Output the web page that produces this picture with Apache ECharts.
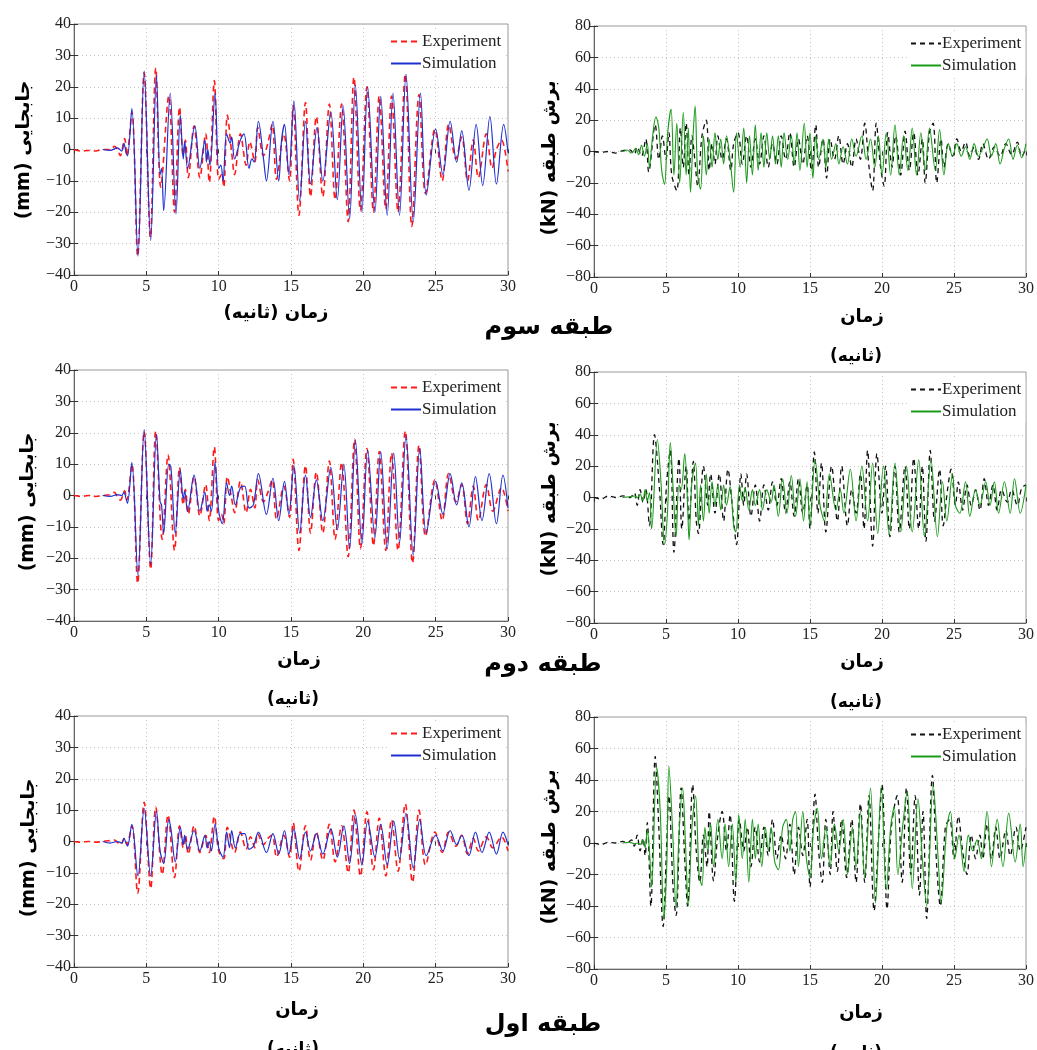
<!DOCTYPE html>
<html>
<head>
<meta charset="utf-8">
<script src="https://cdn.jsdelivr.net/npm/echarts@6/dist/echarts.min.js"></script>
<style>
html,body{margin:0;padding:0;background:#fff;}
#chart{width:1037px;height:1050px;}
</style>
</head>
<body>
<div id="chart"></div>
<script>
// ---------------- DATA (time [s], value) ----------------
const timeTicks = [0, 5, 10, 15, 20, 25, 30];
const dispTicks = [-40, -30, -20, -10, 0, 10, 20, 30, 40];
const shearTicks = [-80, -60, -40, -20, 0, 20, 40, 60, 80];

// Third storey displacement (mm)
const disp3_exp = [[0,0],[0.5,-0.5],[1,-0.3],[1.5,-0.5],[2,0],[2.5,0],[2.8,1],[3,0],[3.2,-2],[3.5,3.5],[3.65,-2],[4,12],[4.4,-34],[4.85,24.5],[5.28,-28],[5.65,26],[6,-12],[6.55,17],[6.95,-20],[7.3,13.5],[7.55,-2],[7.7,3],[7.9,-9],[8.3,7.5],[8.7,-9],[9.1,5],[9.35,-10.5],[9.7,22],[10,-9.5],[10.2,-8],[10.35,-12],[10.6,11],[10.9,-1],[11.1,-8],[11.5,5],[11.9,-5],[12.15,2.5],[12.5,-4],[12.7,7],[13.1,-2],[13.4,2],[13.7,8],[14,-9.5],[14.5,5],[14.9,-10],[15.15,14],[15.55,-21],[16,15],[16.35,-15],[16.75,10.5],[17.2,-15],[17.65,14.5],[18.05,-16],[18.5,14.5],[18.95,-23],[19.35,23],[19.8,-19.5],[20.25,20],[20.7,-20],[21.1,17],[21.55,-19],[21.95,17],[22.4,-20],[22.9,24],[23.35,-24.5],[23.85,17.5],[24.3,-14],[24.95,6.5],[25.45,-10],[25.9,8],[26.4,-3],[26.8,4],[27.2,-10],[27.6,3],[27.95,-9],[28.5,5],[28.9,-6],[29.2,0],[29.55,3],[30,-7]];
const disp3_sim = [[2,0],[2.5,-0.3],[3,0.5],[3.3,-0.5],[3.45,2],[3.6,-1],[3.7,-2],[4,13],[4.42,-34],[4.85,25],[5.3,-29],[5.7,23.5],[5.95,-8],[6.05,-6],[6.2,-19.5],[6.65,18],[7.05,-20.5],[7.35,11],[7.55,-3],[7.65,2.5],[7.85,-6],[8.35,7.5],[8.7,-6],[9.05,3],[9.15,-4],[9.25,0],[9.4,-5],[9.75,18],[10,-6],[10.15,-5],[10.3,-10],[10.55,5],[10.8,2],[10.9,4],[11.1,-3],[11.5,3],[11.75,5],[12.1,-6],[12.3,-3],[12.45,-4],[12.75,9],[13.1,-3],[13.3,-10],[13.75,9],[14.15,-10],[14.35,3],[14.55,8],[14.85,-8],[15.2,15.5],[15.6,-16.5],[16,9],[16.35,-11],[16.8,7],[17.2,-10],[17.75,12],[18.2,-16],[18.6,14],[19.05,-22],[19.45,20.5],[19.9,-20],[20.3,20],[20.8,-20],[21.2,17],[21.65,-21],[22.05,18],[22.5,-21],[22.95,24],[23.45,-23],[23.95,18],[24.35,-14.5],[25,6.5],[25.5,-8],[26,9],[26.45,-4],[26.8,6],[27.3,-13],[27.8,8],[28.25,-11.5],[28.75,10.5],[29.2,-11],[29.7,8],[30,-1]];

// Third storey shear (kN)
const shear3_exp = [[0,0],[0.5,-0.5],[1,0],[1.5,-1],[2,0.5],[2.5,1],[2.8,-2],[3,3],[3.3,-3],[3.6,8],[3.8,-13],[4.25,17],[4.5,-5],[4.75,10],[5,-5],[5.2,12],[5.4,-15],[5.75,-25],[6,15],[6.2,-10],[6.4,18],[6.6,-15],[6.8,10],[7,-5],[7.2,-22],[7.5,10],[7.8,20],[8,-12],[8.2,5],[8.4,-8],[8.6,10],[8.9,-5],[9.2,8],[9.5,-12],[9.7,5],[10,12],[10.3,-8],[10.6,10],[10.9,-10],[11.2,8],[11.5,-8],[11.8,10],[12.1,-10],[12.4,5],[12.7,-8],[13,10],[13.3,-5],[13.6,12],[13.9,-10],[14.2,8],[14.5,-8],[14.8,10],[15.1,-12],[15.4,17],[15.6,-10],[15.9,8],[16.15,-17],[16.4,8],[16.7,-5],[17,10],[17.3,-8],[17.6,5],[17.9,-10],[18.2,8],[18.5,-5],[18.8,18],[19.1,-10],[19.35,-25],[19.6,18],[19.9,-10],[20.15,-22],[20.4,12],[20.7,-10],[20.95,10],[21.3,-15],[21.6,13],[21.9,-12],[22.2,12],[22.5,-15],[22.8,8],[23,-20],[23.3,12],[23.55,18],[23.8,-20],[24.1,8],[24.3,-10],[24.6,5],[24.9,-3],[25.2,8],[25.5,0],[25.8,6],[26.1,-3],[26.4,3],[26.7,-5],[27,5],[27.4,-5],[27.8,3],[28.2,-3],[28.6,5],[29,-2],[29.4,6],[29.7,-3],[30,2]];
const shear3_sim = [[2,0],[2.3,1],[2.6,-1],[2.9,2],[3.1,-2],[3.3,4],[3.5,-3],[3.7,5],[3.85,-10],[4.05,8],[4.3,22],[4.5,15],[4.7,-12],[4.9,-21],[5.1,10],[5.35,27],[5.55,-15],[5.75,18],[5.95,-20],[6.2,25],[6.4,-15],[6.55,15],[6.7,-26],[6.88,10],[7.02,29],[7.2,-15],[7.4,-24],[7.6,10],[7.8,-15],[8,8],[8.2,-10],[8.4,12],[8.6,-5],[8.8,8],[9,-8],[9.2,10],[9.45,-5],[9.7,-26],[9.9,12],[10.15,-10],[10.4,15],[10.6,-20],[10.8,10],[11,-15],[11.2,17],[11.4,-12],[11.6,12],[11.8,-10],[12,12],[12.2,-5],[12.4,10],[12.6,-8],[12.8,10],[13,-10],[13.2,12],[13.45,-5],[13.7,10],[13.9,-8],[14.1,12],[14.3,-12],[14.6,18],[14.8,-10],[15,12],[15.2,-17],[15.4,10],[15.6,-5],[15.9,8],[16.1,-10],[16.3,8],[16.5,-5],[16.8,5],[17,-8],[17.3,3],[17.6,-8],[17.9,8],[18.2,-3],[18.6,10],[18.9,-5],[19.2,8],[19.5,-10],[19.75,10],[20,-15],[20.3,12],[20.6,-15],[20.9,17],[21.2,-15],[21.5,10],[21.8,-12],[22.1,15],[22.4,-15],[22.7,12],[23,-12],[23.3,15],[23.7,-12],[24,14],[24.3,-15],[24.6,5],[24.9,-3],[25.2,5],[25.5,-3],[25.8,3],[26.1,-5],[26.4,5],[26.7,-3],[27,2],[27.3,8],[27.6,-3],[27.9,5],[28.2,-8],[28.5,2],[28.8,8],[29.1,-5],[29.4,4],[29.7,-4],[30,5]];

// Second storey displacement (mm)
const disp2_exp = [[0,0],[0.5,-0.3],[1,0],[1.5,-0.3],[2,0],[2.5,0.3],[2.8,1],[3,-0.5],[3.2,-1.5],[3.5,1.5],[3.65,-1.5],[4,10],[4.4,-28],[4.85,20.5],[5.3,-23.5],[5.65,20.5],[6.1,-14],[6.5,13],[6.95,-17.5],[7.3,9],[7.55,-3],[7.7,2],[7.9,-6],[8.3,6],[8.7,-6.5],[9.1,3.5],[9.35,-8],[9.7,15.5],[10,-8],[10.2,-6],[10.35,-9],[10.6,6],[10.9,-1],[11.1,-5.5],[11.5,4.5],[11.9,-5.5],[12.2,2],[12.5,-4],[12.7,5],[13.1,-2],[13.4,1],[13.7,5],[14,-7.5],[14.5,3],[14.9,-7],[15.15,11.5],[15.55,-17.5],[16,9.5],[16.35,-12],[16.75,7.5],[17.2,-12],[17.65,11],[18.05,-14],[18.5,10.5],[18.95,-19.5],[19.4,18],[19.8,-17],[20.25,15],[20.7,-16],[21.1,14],[21.55,-17.5],[21.95,13.5],[22.4,-17.5],[22.9,20.5],[23.4,-21.5],[23.85,16],[24.3,-13],[24.95,5],[25.45,-8],[25.9,7],[26.4,-2],[26.8,3.5],[27.2,-9],[27.6,3],[27.95,-8],[28.5,3.5],[28.95,-5],[29.55,2.5],[30,-5]];
const disp2_sim = [[2,0],[2.5,-0.3],[3,0.3],[3.3,0],[3.45,1],[3.6,-1],[3.7,-2.5],[4,10.5],[4.42,-25.5],[4.85,21],[5.3,-22],[5.7,19.5],[5.95,-2],[6.05,-3],[6.2,-12],[6.55,10],[6.7,9],[7,-12],[7.35,8],[7.55,-1],[7.65,1.5],[7.85,-5],[8.3,6.5],[8.7,-5],[9.05,1],[9.2,-5],[9.35,-3],[9.5,-5],[9.75,10.5],[10,-5],[10.25,-9],[10.55,4],[10.75,0],[10.9,3],[11.15,-3],[11.5,2.5],[11.8,3],[12.1,-4],[12.4,-3],[12.75,7],[13.3,-6],[13.75,5.5],[14.15,-8],[14.55,4.5],[14.85,-6],[15.2,9.5],[15.6,-12],[16,6.5],[16.35,-7],[16.75,5],[17.2,-8],[17.75,9],[18.2,-11],[18.65,10],[19.05,-17],[19.45,17.5],[19.9,-15.5],[20.3,14.5],[20.8,-13.5],[21.2,14],[21.65,-17],[22.1,13.5],[22.5,-15],[22.95,19],[23.45,-19],[23.9,15],[24.35,-12],[25,4.5],[25.5,-6],[26,7],[26.45,-3],[26.8,4],[27.3,-10],[27.75,6],[28.2,-8],[28.7,7],[29.2,-9],[29.65,6.5],[30,-4]];

// Second storey shear (kN)
const shear2_exp = [[0,0],[0.5,-1],[1,1],[1.5,0],[2,1],[2.5,0],[2.8,3],[3,-5],[3.2,5],[3.4,-3],[3.6,5],[3.85,-18],[4.2,40],[4.55,5],[4.8,-30],[5.05,10],[5.3,30],[5.55,-35],[5.9,25],[6.1,-20],[6.4,20],[6.6,-15],[6.9,23],[7.1,-15],[7.25,-23],[7.6,20],[7.9,-5],[8.1,15],[8.4,-10],[8.7,15],[9,-15],[9.3,18],[9.6,-5],[9.9,-30],[10.2,15],[10.4,-5],[10.6,15],[10.9,-12],[11.2,8],[11.5,-15],[11.8,8],[12.1,-8],[12.4,10],[12.7,-5],[13,12],[13.3,-10],[13.6,10],[13.9,-12],[14.2,12],[14.5,-10],[14.8,8],[15,-20],[15.3,29],[15.55,-10],[15.8,22],[16.1,-22],[16.5,20],[16.9,-15],[17.2,20],[17.6,-18],[17.9,5],[18.2,-10],[18.5,15],[18.75,-20],[19,30],[19.35,-31],[19.65,28],[20,-10],[20.25,20],[20.55,-25],[20.9,20],[21.2,-22],[21.6,20],[21.9,-20],[22.2,25],[22.55,-20],[22.8,20],[23.05,-28],[23.35,30],[23.65,-15],[24,18],[24.25,-18],[24.55,5],[24.8,18],[25.1,-5],[25.3,10],[25.6,-8],[25.9,8],[26.2,-5],[26.5,5],[26.8,-8],[27.1,12],[27.4,-5],[27.7,8],[28,-8],[28.3,5],[28.7,-3],[29,5],[29.4,-5],[29.7,6],[30,8]];
const shear2_sim = [[2,0],[2.5,0.5],[2.8,1],[3,0],[3.2,2],[3.4,-2],[3.55,5],[3.7,-2],[3.85,3],[4,-20],[4.4,37],[4.65,10],[4.9,-30],[5.1,-10],[5.3,35],[5.5,5],[5.7,-25],[5.9,8],[6.05,5],[6.3,28],[6.5,-5],[6.6,-27],[6.8,10],[7.05,22],[7.25,-18],[7.4,8],[7.6,-15],[7.8,15],[8,-10],[8.2,10],[8.4,-5],[8.6,8],[8.8,-8],[9,8],[9.2,-5],[9.45,7],[9.7,-18],[9.85,-22],[10.1,8],[10.3,-2],[10.5,6],[10.75,-8],[11,5],[11.2,-5],[11.5,5],[11.7,-8],[12,5],[12.3,-3],[12.5,8],[12.8,-12],[13.1,12],[13.4,-10],[13.7,14],[14,-12],[14.3,12],[14.55,-15],[14.8,10],[15,-18],[15.35,24],[15.7,-5],[16,-15],[16.35,15],[16.8,-8],[17.1,5],[17.35,-10],[17.8,18],[18.2,-15],[18.6,20],[19,-15],[19.35,22],[19.7,-23],[20.1,20],[20.5,-24],[20.9,22],[21.3,-22],[21.7,20],[22.1,-22],[22.55,24],[22.95,-25],[23.4,24],[23.85,-25],[24.2,10],[24.5,-15],[24.9,15],[25.1,-5],[25.4,-10],[25.8,10],[26.1,-12],[26.5,5],[26.8,-5],[27.2,10],[27.5,-5],[27.8,10],[28.1,-10],[28.5,10],[28.9,-10],[29.2,12],[29.6,-10],[30,8]];

// First storey displacement (mm)
const disp1_exp = [[0,0],[0.5,-0.2],[1,0],[1.5,-0.2],[2,0],[2.5,0.3],[2.8,0.5],[3,-0.3],[3.2,-1],[3.5,1],[3.65,-1],[4,5],[4.4,-16.5],[4.85,12.5],[5.3,-15],[5.65,11],[6.1,-10.5],[6.5,8.5],[6.95,-11.5],[7.3,5],[7.55,-2],[7.7,2],[7.9,-4],[8.3,5],[8.7,-3.5],[9.1,2],[9.35,-3.5],[9.7,8],[10,-3],[10.35,-5.5],[10.6,4.5],[11.1,-3.5],[11.5,3],[11.9,-2.5],[12.2,1.5],[12.5,-2],[12.7,2.5],[13.1,-1],[13.4,1],[13.7,2],[14,-5],[14.5,2],[14.9,-5],[15.15,6],[15.55,-9.5],[16,5],[16.35,-6],[16.75,3],[17.2,-6],[17.65,5.5],[18.05,-6.5],[18.5,5],[18.95,-10],[19.35,10],[19.8,-11],[20.25,9.5],[20.7,-9],[21.1,7.5],[21.55,-11],[21.95,7],[22.4,-9.5],[22.9,12],[23.4,-13],[23.85,10],[24.3,-7.5],[24.95,3],[25.45,-3.5],[25.9,3],[26.4,-1.5],[26.8,2],[27.2,-4],[27.6,1],[27.95,-3],[28.5,1.5],[28.95,-2],[29.55,1.5],[30,-3]];
const disp1_sim = [[2,0],[2.5,-0.5],[3,0],[3.3,-0.5],[3.45,1],[3.6,-0.5],[3.7,-1.5],[4,5.5],[4.42,-11],[4.85,10.5],[5.3,-11],[5.7,9.5],[5.95,-3],[6.2,-7],[6.55,7],[6.7,4],[7,-6.5],[7.35,4.5],[7.55,-1],[7.65,2],[7.85,-2.5],[8.3,3.5],[8.7,-3],[9.05,2],[9.2,-2],[9.35,0],[9.5,-3],[9.75,5.5],[10,-2],[10.3,-5],[10.55,3],[10.75,-2],[10.9,3.5],[11.15,-2],[11.5,2.5],[11.8,2.5],[12.1,-2.5],[12.4,-1.5],[12.75,3],[13.3,-3.5],[13.75,2.5],[14.15,-4],[14.55,3.5],[14.85,-4],[15.2,4],[15.6,-5.5],[16,3],[16.35,-3],[16.75,2.5],[17.2,-4],[17.75,4],[18.2,-5],[18.65,5],[19.05,-7],[19.45,8.5],[19.9,-7.5],[20.3,6.5],[20.8,-5],[21.2,5.5],[21.65,-7.5],[22.1,6.5],[22.5,-5.5],[22.95,9],[23.45,-8.5],[23.9,7],[24.35,-4.5],[25,2],[25.5,-3],[26,3.5],[26.45,-1],[26.8,2],[27.3,-4.5],[27.75,3],[28.2,-3.5],[28.7,3],[29.2,-4],[29.65,3],[30,-1]];

// First storey shear (kN)
const shear1_exp = [[0,0],[0.5,-1],[1,0.5],[1.5,0],[2,1],[2.3,0],[2.6,2],[2.8,-2],[3,5],[3.2,-5],[3.4,3],[3.55,-8],[3.7,13],[3.95,-40],[4.25,55],[4.5,10],[4.8,-53],[5.05,0],[5.2,30],[5.5,-30],[5.7,-46],[6.05,35],[6.3,-10],[6.5,-40],[6.85,37],[7.1,-5],[7.35,-25],[7.6,5],[7.85,-15],[8,20],[8.3,-24],[8.6,5],[8.9,20],[9.2,-5],[9.45,18],[9.75,-37],[10.1,15],[10.4,-5],[10.65,10],[10.9,-15],[11.2,10],[11.5,-12],[11.8,10],[12.1,-8],[12.4,15],[12.7,-10],[13,5],[13.3,-10],[13.6,12],[13.9,-20],[14.2,10],[14.5,-8],[14.8,15],[15,-28],[15.35,31],[15.6,-5],[15.85,-25],[16.1,15],[16.4,-20],[16.6,20],[16.9,-18],[17.2,15],[17.55,-22],[17.9,15],[18.2,-25],[18.5,25],[18.8,-25],[19.1,30],[19.45,-43],[19.8,10],[20,37],[20.35,-42],[20.65,10],[21.05,30],[21.4,-25],[21.7,35],[22,-20],[22.3,30],[22.6,-33],[22.85,20],[23.1,-48],[23.5,43],[23.8,-15],[24.05,-40],[24.4,10],[24.7,15],[25,-10],[25.3,17],[25.6,-5],[25.9,-20],[26.2,5],[26.5,-10],[26.8,5],[27,-10],[27.3,12],[27.6,-10],[27.9,10],[28.2,-10],[28.6,8],[28.9,-8],[29.3,10],[29.6,-5],[30,10]];
const shear1_sim = [[2,0],[2.5,0.5],[2.8,-0.5],[3,0],[3.2,-1],[3.4,2],[3.55,-3],[3.7,8],[3.85,-5],[4,-28],[4.35,48],[4.6,20],[4.85,-48],[5.05,-15],[5.2,49],[5.45,10],[5.7,-41],[5.9,5],[6.15,35],[6.35,0],[6.55,-40],[6.8,10],[7.05,30],[7.3,-20],[7.5,-27],[7.7,10],[7.9,-5],[8.1,12],[8.3,-15],[8.6,15],[8.9,-10],[9.1,12],[9.35,-15],[9.6,12],[9.85,-25],[10.05,18],[10.3,-10],[10.5,15],[10.75,-25],[11,15],[11.2,-10],[11.4,12],[11.65,-15],[11.9,10],[12.1,-5],[12.3,10],[12.55,-12],[12.8,-17],[13.1,10],[13.35,15],[13.6,-5],[13.8,15],[14,20],[14.2,-15],[14.5,20],[14.75,-10],[15,-22],[15.25,10],[15.5,22],[15.8,-10],[16.1,10],[16.4,-15],[16.7,12],[17,-5],[17.3,15],[17.6,-20],[17.95,10],[18.2,-15],[18.5,20],[18.8,-22],[19.2,35],[19.55,-38],[19.95,36],[20.3,-30],[20.6,10],[20.85,23],[21.1,-20],[21.45,12],[21.75,33],[22.1,-29],[22.5,28],[22.8,-10],[23.1,-40],[23.55,37],[23.9,-10],[24.1,-38],[24.5,10],[24.75,20],[25.05,-10],[25.35,5],[25.7,-18],[26,5],[26.3,-5],[26.6,2],[26.9,-10],[27.3,20],[27.6,-15],[28,15],[28.4,-15],[28.8,19],[29.25,-12],[29.6,12],[29.8,-15],[30,0]];

const legendNames = ['Experiment', 'Simulation'];

// ---------------- LAYOUT ----------------
const panels = [
  {grid:{left:74, top:24, width:434, height:251}, ticks:dispTicks, exp:disp3_exp, sim:disp3_sim, kind:'disp'},
  {grid:{left:594, top:26, width:433, height:251}, ticks:shearTicks, exp:shear3_exp, sim:shear3_sim, kind:'shear'},
  {grid:{left:74, top:370, width:434, height:251}, ticks:dispTicks, exp:disp2_exp, sim:disp2_sim, kind:'disp'},
  {grid:{left:594, top:372, width:433, height:251}, ticks:shearTicks, exp:shear2_exp, sim:shear2_sim, kind:'shear'},
  {grid:{left:74, top:716, width:434, height:251}, ticks:dispTicks, exp:disp1_exp, sim:disp1_sim, kind:'disp'},
  {grid:{left:594, top:717, width:433, height:252}, ticks:shearTicks, exp:shear1_exp, sim:shear1_sim, kind:'shear'}
];
const styles = {
  disp:  {exp:{color:'#ff1a1a', width:1.6, type:[6,4]}, sim:{color:'#2030d0', width:1.2, type:'solid'}},
  shear: {exp:{color:'#111111', width:1.3, type:[5,4]}, sim:{color:'#1a9a1a', width:1.1, type:'solid'}}
};

const SERIF = '"Liberation Serif", "Times New Roman", serif';
const AR = '"DejaVu Sans", "Noto Sans", sans-serif';
const fmt = v => v < 0 ? '\u2212' + Math.abs(v) : String(v);
const rtl = s => '\u202B' + s + '\u202C';

const grid = [], xAxis = [], yAxis = [], series = [], legend = [];
panels.forEach((p, i) => {
  grid.push(Object.assign({show:true, borderColor:'#9a9a9a', borderWidth:1, backgroundColor:'#fff', containLabel:false}, p.grid));
  const ymin = p.ticks[0], ymax = p.ticks[p.ticks.length-1], yint = p.ticks[1]-p.ticks[0];
  xAxis.push({type:'value', gridIndex:i, min:timeTicks[0], max:timeTicks[timeTicks.length-1], interval:timeTicks[1]-timeTicks[0],
    axisLine:{show:true, onZero:false, lineStyle:{color:'#666'}},
    axisTick:{show:true, inside:true, length:4, lineStyle:{color:'#333'}},
    axisLabel:{color:'#222', fontFamily:SERIF, fontSize:16, margin:4, formatter:fmt},
    splitLine:{show:true, lineStyle:{color:'#c4c4c4', type:[1,3], width:1}}});
  xAxis.push({type:'value', gridIndex:i, position:'top', min:timeTicks[0], max:timeTicks[timeTicks.length-1], interval:timeTicks[1]-timeTicks[0],
    axisLine:{show:false}, axisTick:{show:true, inside:true, length:4, lineStyle:{color:'#333'}},
    axisLabel:{show:false}, splitLine:{show:false}});
  yAxis.push({type:'value', gridIndex:i, min:ymin, max:ymax, interval:yint,
    axisLine:{show:true, onZero:false, lineStyle:{color:'#666'}},
    axisTick:{show:true, inside:true, length:4, lineStyle:{color:'#333'}},
    axisLabel:{color:'#222', fontFamily:SERIF, fontSize:16, margin:3, formatter:fmt},
    splitLine:{show:true, lineStyle:{color:'#c4c4c4', type:[1,3], width:1}}});
  yAxis.push({type:'value', gridIndex:i, position:'right', min:ymin, max:ymax, interval:yint,
    axisLine:{show:false}, axisTick:{show:true, inside:true, length:4, lineStyle:{color:'#333'}},
    axisLabel:{show:false}, splitLine:{show:false}});
  const st = styles[p.kind];
  const nE = legendNames[0] + '|' + i, nS = legendNames[1] + '|' + i;
  series.push({name:nE, type:'line', xAxisIndex:2*i, yAxisIndex:2*i, data:p.exp, symbol:'none', smooth:0.35,
    lineStyle:{color:st.exp.color, width:st.exp.width, type:st.exp.type}, itemStyle:{color:st.exp.color}, z:2, silent:true});
  series.push({name:nS, type:'line', xAxisIndex:2*i, yAxisIndex:2*i, data:p.sim, symbol:'none', smooth:0.35,
    lineStyle:{color:st.sim.color, width:st.sim.width, type:st.sim.type}, itemStyle:{color:st.sim.color}, z:3, silent:true});
  legend.push({data:[nE, nS], orient:'vertical', left:p.grid.left + 314, top:p.grid.top + 7,
    itemWidth:30, itemHeight:14, itemGap:5, padding:[2,4,2,2], backgroundColor:'#fff', selectedMode:false,
    itemStyle:{opacity:0},
    formatter: n => n.split('|')[0],
    textStyle:{fontFamily:SERIF, fontSize:17, color:'#222', padding:[0,0,0,-4]}});
});

// ---------------- TEXT ----------------
function txt(x, y, s, size, rot) {
  return {type:'text', x:x, y:y, rotation:rot||0, z:50,
    style:{text:rtl(s), font:'bold ' + size + 'px ' + AR, fill:'#000', textAlign:'center', textVerticalAlign:'middle'}};
}
const graphics = [
  txt(24, 150, 'جابجایی (mm)', 19, Math.PI/2),
  txt(550, 158, 'برش طبقه (kN)', 19, Math.PI/2),
  txt(28, 502, 'جابجایی (mm)', 19, Math.PI/2),
  txt(550, 499, 'برش طبقه (kN)', 19, Math.PI/2),
  txt(29, 848, 'جابجایی (mm)', 19, Math.PI/2),
  txt(550, 847, 'برش طبقه (kN)', 19, Math.PI/2),
  txt(276, 313, 'زمان (ثانیه)', 18),
  txt(862, 317, 'زمان', 18),
  txt(856, 357, '(ثانیه)', 17),
  txt(299, 660, 'زمان', 18),
  txt(293, 700, '(ثانیه)', 17),
  txt(862, 662, 'زمان', 18),
  txt(856, 703, '(ثانیه)', 17),
  txt(297, 1010, 'زمان', 18),
  txt(293, 1050, '(ثانیه)', 17),
  txt(861, 1013, 'زمان', 18),
  txt(856, 1054, '(ثانیه)', 17),
  txt(549, 328, 'طبقه سوم', 24),
  txt(543, 665, 'طبقه دوم', 24),
  txt(543, 1025, 'طبقه اول', 24)
];

const chart = echarts.init(document.getElementById('chart'), null, {renderer:'canvas'});
chart.setOption({
  animation:false,
  backgroundColor:'#fff',
  grid:grid, xAxis:xAxis, yAxis:yAxis, series:series, legend:legend,
  graphic:{elements:graphics}
});
</script>
</body>
</html>
